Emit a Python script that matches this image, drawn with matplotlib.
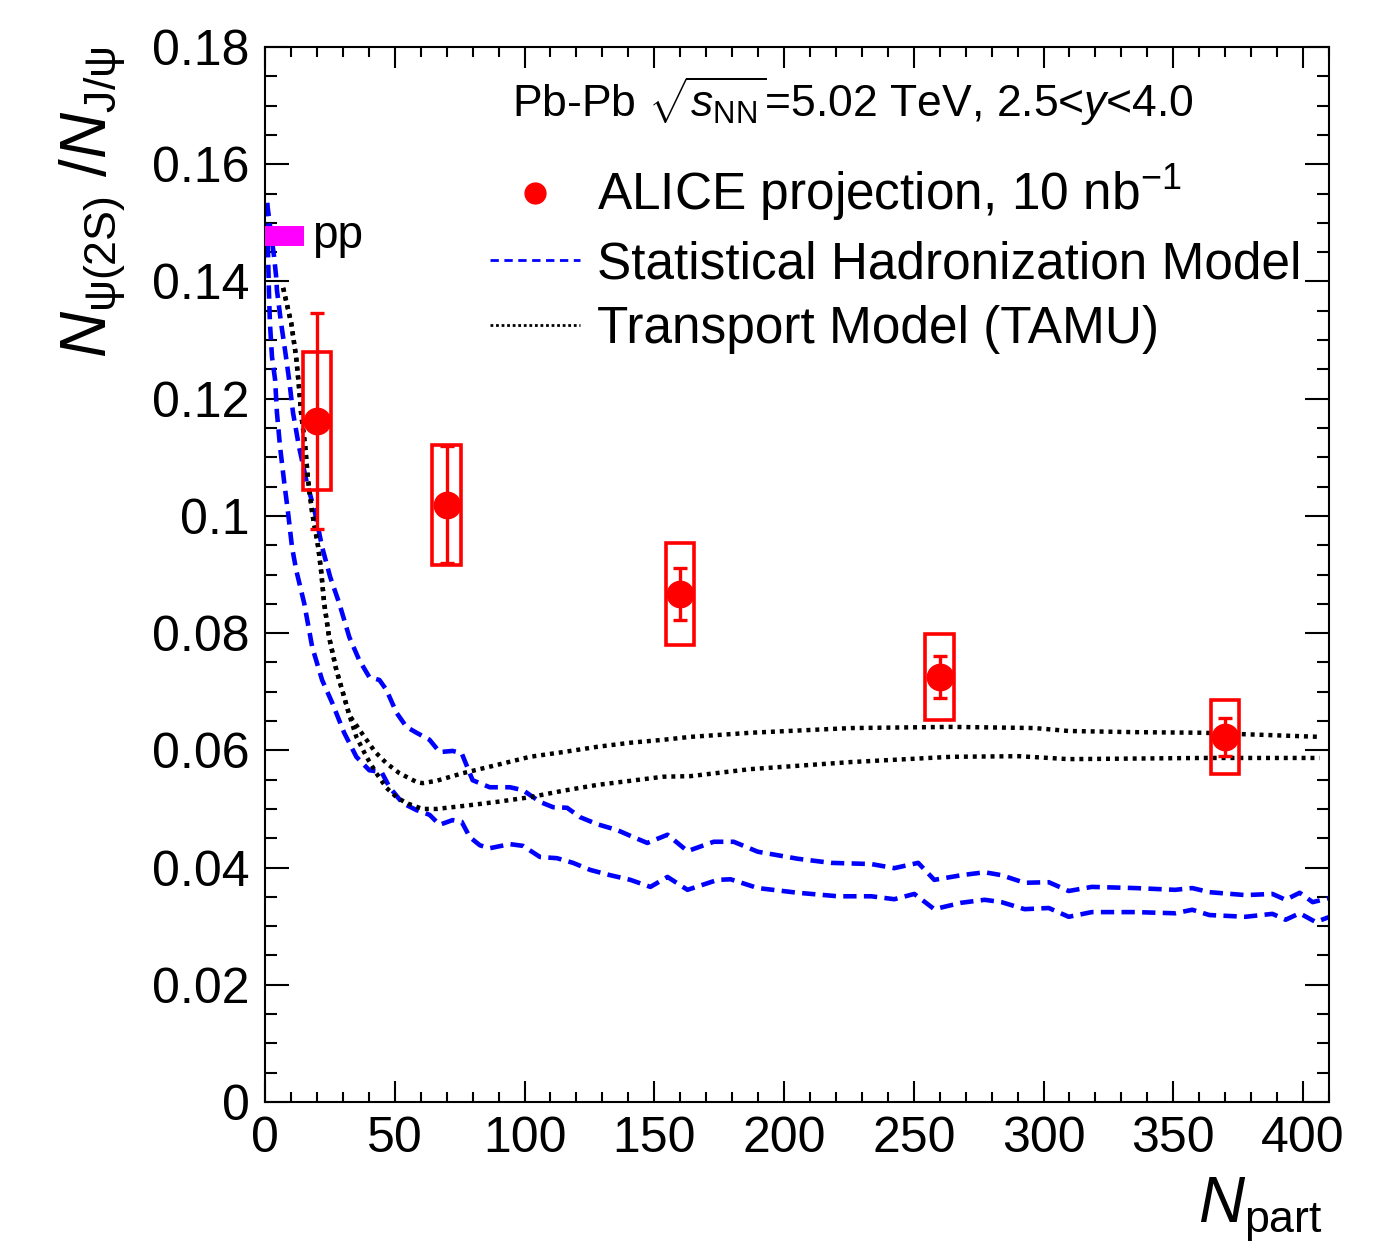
import numpy as np
import matplotlib
matplotlib.use('Agg')
import matplotlib.pyplot as plt
from matplotlib.patches import Rectangle
from matplotlib.lines import Line2D
from matplotlib.ticker import MultipleLocator, FuncFormatter

plt.rcParams['font.family'] = ['Liberation Sans', 'DejaVu Sans']
plt.rcParams['mathtext.fontset'] = 'custom'
plt.rcParams['mathtext.rm'] = 'Liberation Sans'
plt.rcParams['mathtext.it'] = 'Liberation Sans:italic'
plt.rcParams['mathtext.bf'] = 'Liberation Sans:bold'

# ALICE projection points
alice_npart = [20, 70, 160, 260, 370]
alice_ratio = [0.1162, 0.1019, 0.0867, 0.0725, 0.0623]
alice_stat = [0.0185, 0.0100, 0.0044, 0.0036, 0.0032]
alice_sys = [0.0117, 0.0102, 0.0087, 0.0073, 0.0063]

# pp reference
pp_ratio = 0.1478
pp_err = 0.0017
pp_npart_max = 15

# Statistical Hadronization Model band (lower / upper edge)
shm_lo_x = [0.8, 1.2, 1.5, 1.9, 2.7, 3.9, 4.6, 5.8, 7.3, 8.9, 10.4, 12.0, 15.1, 18.2,
            22.0, 25.9, 30.5, 35.2, 40.2, 44.9, 48.0, 53.0, 58.4, 63.4, 67.3, 72.3,
            75.8, 78.9, 82.8, 86.6, 94.4, 99.4, 106.0, 112.5, 118.7, 125.3, 133.0,
            140.8, 148.5, 155.1, 162.8, 174.4, 179.4, 189.9, 205.3, 220.8, 233.6,
            242.5, 250.2, 257.9, 268.4, 277.3, 283.8, 292.7, 302.0, 309.7, 318.6,
            335.3, 350.7, 357.3, 363.9, 377.8, 388.2, 393.3, 398.7, 404.9, 410.3]
shm_lo_y = [0.1534, 0.1442, 0.1385, 0.1329, 0.1271, 0.1232, 0.1176, 0.1118, 0.1061,
            0.1005, 0.0947, 0.0908, 0.0851, 0.0776, 0.0720, 0.0681, 0.0630, 0.0589,
            0.0566, 0.0563, 0.0537, 0.0510, 0.0498, 0.0490, 0.0473, 0.0481, 0.0478,
            0.0452, 0.0438, 0.0433, 0.0440, 0.0437, 0.0418, 0.0416, 0.0408, 0.0396,
            0.0387, 0.0379, 0.0367, 0.0384, 0.0362, 0.0379, 0.0380, 0.0365, 0.0357,
            0.0351, 0.0351, 0.0346, 0.0355, 0.0329, 0.0340, 0.0345, 0.0341, 0.0329,
            0.0331, 0.0316, 0.0324, 0.0324, 0.0322, 0.0328, 0.0319, 0.0316, 0.0321,
            0.0311, 0.0322, 0.0307, 0.0316]

shm_hi_x = [0.8, 3.5, 4.3, 4.6, 6.2, 8.1, 9.3, 10.8, 13.1, 15.9, 19.3, 22.0, 25.1,
            28.6, 32.5, 36.3, 40.2, 44.1, 46.8, 50.7, 54.5, 58.4, 63.4, 67.3, 72.3,
            75.8, 80.0, 86.6, 94.4, 99.4, 106.0, 111.0, 116.4, 121.4, 128.0, 135.7,
            141.9, 147.3, 155.1, 162.8, 172.9, 180.6, 189.9, 205.3, 218.1, 233.6,
            242.5, 251.7, 257.9, 268.4, 277.3, 283.8, 292.7, 302.0, 309.7, 318.6,
            335.3, 350.7, 357.3, 363.9, 377.8, 388.2, 393.3, 398.7, 403.7, 410.3]
shm_hi_y = [0.1534, 0.1442, 0.1408, 0.1385, 0.1329, 0.1271, 0.1232, 0.1176, 0.1118,
            0.1061, 0.1005, 0.0947, 0.0896, 0.0851, 0.0793, 0.0754, 0.0725, 0.0720,
            0.0703, 0.0664, 0.0640, 0.0630, 0.0618, 0.0597, 0.0599, 0.0595, 0.0549,
            0.0537, 0.0537, 0.0532, 0.0512, 0.0503, 0.0502, 0.0486, 0.0474, 0.0464,
            0.0452, 0.0442, 0.0456, 0.0428, 0.0444, 0.0444, 0.0427, 0.0415, 0.0408,
            0.0406, 0.0399, 0.0408, 0.0379, 0.0387, 0.0392, 0.0387, 0.0374, 0.0375,
            0.0360, 0.0367, 0.0365, 0.0362, 0.0365, 0.0358, 0.0353, 0.0355, 0.0345,
            0.0357, 0.0341, 0.0348]

# Transport Model (TAMU) band (lower / upper edge)
tamu_lo_x = [7.0, 10.1, 12.0, 13.1, 13.9, 15.5, 16.6, 18.2, 20.5, 21.7, 22.8, 24.7,
             27.5, 30.5, 32.5, 35.2, 39.1, 42.9, 46.8, 50.7, 54.5, 60.7, 66.1, 76.2,
             89.3, 102.1, 114.8, 128.0, 140.8, 153.5, 164.0, 187.2, 225.8, 264.5,
             290.4, 309.7, 361.2, 406.4]
tamu_lo_y = [0.1389, 0.1329, 0.1271, 0.1220, 0.1176, 0.1118, 0.1061, 0.1005, 0.0947,
             0.0903, 0.0851, 0.0793, 0.0737, 0.0691, 0.0660, 0.0623, 0.0589, 0.0561,
             0.0536, 0.0520, 0.0510, 0.0500, 0.0500, 0.0505, 0.0512, 0.0520, 0.0531,
             0.0541, 0.0548, 0.0555, 0.0556, 0.0568, 0.0580, 0.0589, 0.0590, 0.0585,
             0.0587, 0.0587]

tamu_hi_x = [7.0, 10.1, 12.0, 13.1, 13.9, 15.5, 16.6, 18.2, 20.5, 21.7, 22.8, 24.7,
             27.5, 30.5, 32.5, 38.3, 42.5, 46.8, 51.8, 58.4, 60.7, 66.1, 76.2, 89.3,
             102.1, 114.8, 128.0, 140.8, 153.5, 164.0, 187.2, 225.8, 264.5, 296.6,
             309.7, 335.3, 361.2, 406.4]
tamu_hi_y = [0.1389, 0.1329, 0.1271, 0.1220, 0.1176, 0.1118, 0.1061, 0.1005, 0.0947,
             0.0903, 0.0851, 0.0793, 0.0737, 0.0691, 0.0660, 0.0623, 0.0597, 0.0578,
             0.0561, 0.0546, 0.0544, 0.0548, 0.0561, 0.0575, 0.0589, 0.0597, 0.0606,
             0.0613, 0.0618, 0.0623, 0.0630, 0.0638, 0.0640, 0.0638, 0.0633, 0.0631,
             0.0630, 0.0623]

box_half_width = 5.5

fig = plt.figure(figsize=(13.98, 12.48), dpi=100)
ax = fig.add_axes([265 / 1398, 1 - 1102 / 1248, 1064 / 1398, 1055 / 1248])

# models
shm_style = dict(color='#0000ff', lw=3.3, linestyle=(0, (2.9, 1.6)), dash_capstyle='butt')
tamu_style = dict(color='black', lw=3.2, linestyle=(0, (0.9, 1.1)), dash_capstyle='butt')
ax.plot(shm_lo_x, shm_lo_y, **shm_style)
ax.plot(shm_hi_x, shm_hi_y, **shm_style)
ax.plot(tamu_lo_x, tamu_lo_y, **tamu_style)
ax.plot(tamu_hi_x, tamu_hi_y, **tamu_style)

# pp reference band
ax.add_patch(Rectangle((0, pp_ratio - pp_err), pp_npart_max, 2 * pp_err,
                       facecolor='#ff00ff', edgecolor='none', zorder=3))
ax.text(18, pp_ratio, 'pp', fontsize=33, va='center', ha='left')

# systematic boxes
for x, y, s in zip(alice_npart, alice_ratio, alice_sys):
    ax.add_patch(Rectangle((x - box_half_width, y - s), 2 * box_half_width, 2 * s,
                           facecolor='none', edgecolor='#ff0000', lw=2.6, zorder=4))

# data points with stat errors
ax.errorbar(alice_npart, alice_ratio, yerr=alice_stat, fmt='o', color='#ff0000',
            markersize=19, elinewidth=2.4, capsize=5, capthick=2.4, zorder=5)

ax.set_xlim(0, 410)
ax.set_ylim(0, 0.18)
ax.xaxis.set_major_locator(MultipleLocator(50))
ax.xaxis.set_minor_locator(MultipleLocator(10))
ax.yaxis.set_major_locator(MultipleLocator(0.02))
ax.yaxis.set_minor_locator(MultipleLocator(0.005))
fmt = FuncFormatter(lambda v, p: f'{v:g}')
ax.xaxis.set_major_formatter(fmt)
ax.yaxis.set_major_formatter(fmt)
ax.tick_params(which='both', direction='in', top=True, right=True, width=1.5,
               labelsize=36)
ax.tick_params(axis='x', which='major', length=15, pad=10)
ax.tick_params(axis='x', which='minor', length=7.5)
ax.tick_params(axis='y', which='major', length=17, pad=11)
ax.tick_params(axis='y', which='minor', length=8.5)
for sp in ax.spines.values():
    sp.set_linewidth(1.5)

# axis titles in ROOT placement
fig.text(93 / 1398, 1 - 46 / 1248, r'$N_{\mathrm{\psi(2S)}}\ /N_{\mathrm{J/\psi}}$',
         rotation=90, fontsize=46, ha='center', va='top')
fig.text(1323 / 1398, 4 / 1248, r'$N_{\mathrm{part}}$',
         fontsize=46, ha='right', va='bottom')

# header
ax.text((512 - 265) / 1064, (1102 - 117) / 1055,
        r'Pb-Pb $\sqrt{s_{\mathrm{NN}}}$=5.02 TeV, 2.5<$y$<4.0',
        transform=ax.transAxes, fontsize=32, ha='left', va='baseline')

# legend
handles = [
    Line2D([], [], marker='o', color='#ff0000', linestyle='none', markersize=15),
    Line2D([], [], color='#0000ff', lw=2, linestyle=(0, (3, 2))),
    Line2D([], [], color='black', lw=2, linestyle=(0, (1, 1))),
]
labels = [r'ALICE projection, 10 nb$^{\mathrm{-1}}$', 'Statistical Hadronization Model',
          'Transport Model (TAMU)']
ax.legend(handles, labels, loc='upper left',
          bbox_to_anchor=((490 - 265) / 1064, (1102 - 163) / 1055),
          frameon=False, fontsize=37, handlelength=1.75, handletextpad=0.33,
          labelspacing=0.31, borderpad=0, borderaxespad=0)

fig.savefig('out.png', dpi=100)
